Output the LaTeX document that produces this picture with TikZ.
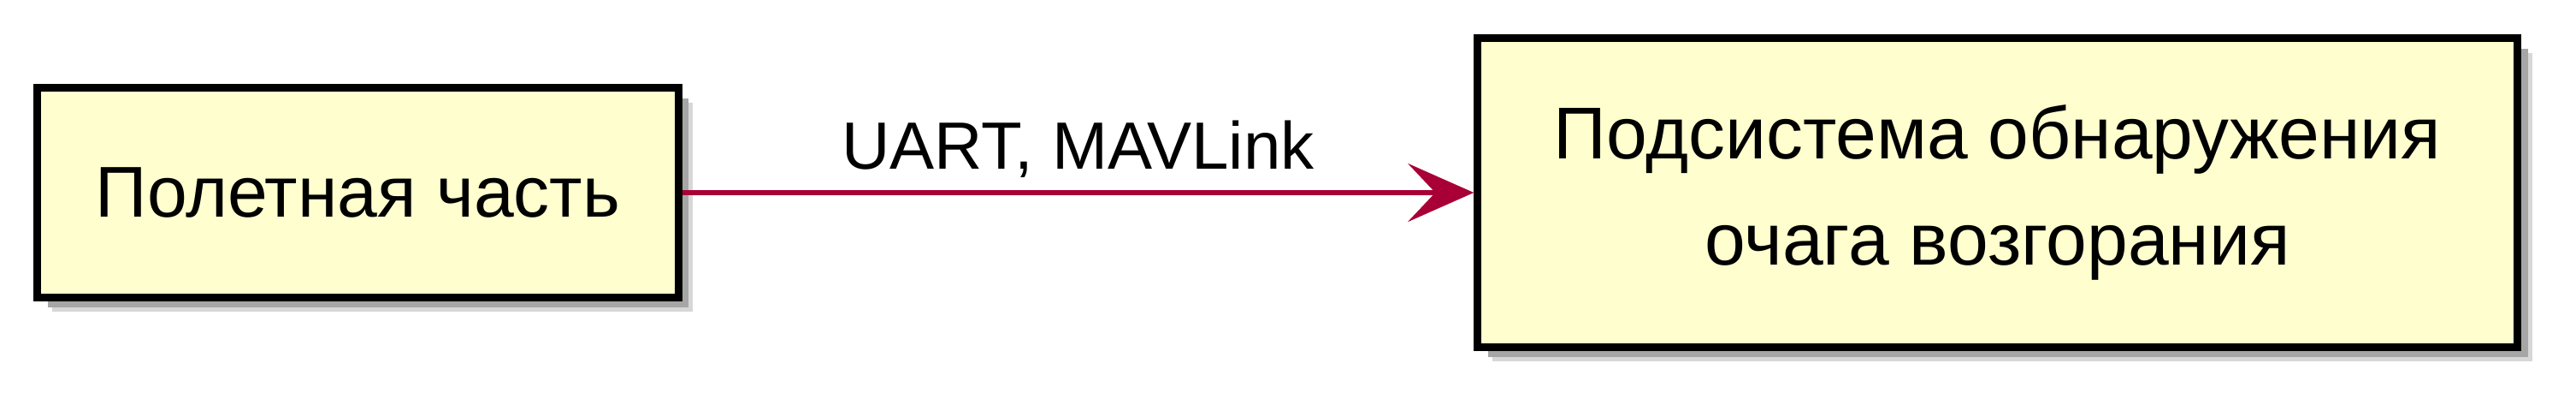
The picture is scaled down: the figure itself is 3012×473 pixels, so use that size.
\documentclass[tikz,border=0pt]{standalone}
\usepackage{fontspec}
\setmainfont{Liberation Sans}
\usetikzlibrary{arrows.meta, positioning, shadows}
\definecolor{UmlFill}{HTML}{FEFECE}
\definecolor{UmlArrow}{HTML}{A80036}
\definecolor{UmlShadow}{HTML}{A6A6A6}
\tikzset{
    % Component box style
    component/.style={
        rectangle,
        draw=black,
        fill=UmlFill,
        line width=0.09cm,
        align=center,
        font=\fontsize{23.9}{33.9}\selectfont,
        drop shadow={shadow xshift=0.17cm, shadow yshift=-0.17cm, fill=UmlShadow, opacity=0.45},
        drop shadow={shadow xshift=0.12cm, shadow yshift=-0.12cm, fill=UmlShadow, opacity=1}
    },
    % Arrow style
    link/.style={
        -{Stealth[length=0.77cm, width=0.68cm, inset=0.32cm]},
        line width=0.06cm,
        color=UmlArrow
    },
    % Arrow label
    linklabel/.style={
        text=black,
        font=\fontsize{22.2}{26}\selectfont
    }
}
\begin{document}
\begin{tikzpicture}[x=0.01cm, y=-0.01cm]
    \useasboundingbox (0,0) rectangle (3012,473);
    \node (flight) [component, minimum width=7.49cm, minimum height=2.44cm] at (418.5,225) {Полетная часть};
    \node (detect) [component, minimum width=12.15cm, minimum height=3.6cm, right=9.25cm of flight, font=\fontsize{24.4}{35.2}\selectfont] {Подсистема обнаружения\\очага возгорания};

    \draw [link] (flight) -- (detect) node [linklabel, midway, anchor=base, yshift=0.27cm] {UART, MAVLink};
\end{tikzpicture}
\end{document}
